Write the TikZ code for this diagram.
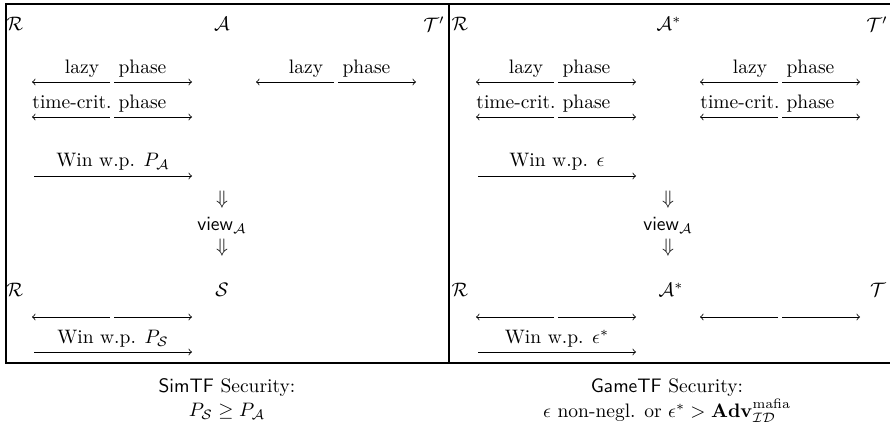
\documentclass[tikz,border=0pt]{standalone}
\usepackage{amsmath,amssymb}
\begin{document}
\begin{tikzpicture}[x=0.5128pt,y=-0.5128pt,
  frame/.style={line width=1.2pt},
  msg/.style={-to,line width=0.4pt},
  party/.style={inner sep=0pt},
  lbl/.style={inner sep=0pt,text height=6.9pt,text depth=1.9pt},
  captext/.style={inner sep=0pt,align=center}]
\useasboundingbox (0,0) rectangle (890,428);

% ---------- frames ----------
\draw[frame] (449,4) -- (6,4) -- (6,363) -- (449,363);
\draw[frame] (892,4) -- (449,4) -- (449,363) -- (892,363);

% ---------- left panel: simulation-based notion ----------
\begin{scope}
  \node[party] (R1)  at (15,24)  {$\mathcal{R}$};
  \node[party] (A1)  at (222,24) {$\mathcal{A}$};
  \node[party] (T1)  at (434,24) {$\mathcal{T}'$};
  % lazy phase, reader side
  \coordinate (p1a) at (32,82);  \coordinate (p1m) at (110,82);
  \coordinate (p1n) at (114,82); \coordinate (p1b) at (192,82);
  \draw[msg] (p1m) -- (p1a);  \draw[msg] (p1n) -- (p1b);
  \node[lbl] at (82,69)    {lazy};
  \node[lbl] at (142.5,69) {phase};
  % lazy phase, token side
  \coordinate (q1a) at (256,82); \coordinate (q1m) at (334,82);
  \coordinate (q1n) at (338,82); \coordinate (q1b) at (416,82);
  \draw[msg] (q1m) -- (q1a);  \draw[msg] (q1n) -- (q1b);
  \node[lbl] at (306,69)   {lazy};
  \node[lbl] at (366.5,69) {phase};
  % time-critical phase
  \coordinate (p2a) at (32,117);  \coordinate (p2m) at (110,117);
  \coordinate (p2n) at (114,117); \coordinate (p2b) at (192,117);
  \draw[msg] (p2m) -- (p2a);  \draw[msg] (p2n) -- (p2b);
  \node[lbl] at (72,104)    {time-crit.};
  \node[lbl] at (142.5,104) {phase};
  % outcome
  \coordinate (w1a) at (34,176); \coordinate (w1b) at (192,176);
  \draw[msg] (w1a) -- (w1b);
  \node[lbl] at (113,162) {Win w.p. $P_{\mathcal{A}}$};
  % view handed to the simulator
  \node[party] (d1a) at (222,200) {$\Downarrow$};
  \node[party] (v1)  at (222,225) {$\mathsf{view}_{\mathcal{A}}$};
  \node[party] (d1b) at (222,248) {$\Downarrow$};
  \node[party] (R1s) at (15,290)  {$\mathcal{R}$};
  \node[party] (S1)  at (222,290) {$\mathcal{S}$};
  \coordinate (s1a) at (32,317);  \coordinate (s1m) at (110,317);
  \coordinate (s1n) at (114,317); \coordinate (s1b) at (192,317);
  \draw[msg] (s1m) -- (s1a);  \draw[msg] (s1n) -- (s1b);
  \coordinate (x1a) at (34,352); \coordinate (x1b) at (192,352);
  \draw[msg] (x1a) -- (x1b);
  \node[lbl] at (113,339) {Win w.p. $P_{\mathcal{S}}$};
  % caption
  \node[captext] (c1a) at (227,388) {$\mathsf{SimTF}$ Security:};
  \node[captext] (c1b) at (227,411) {$P_{\mathcal{S}} \geq P_{\mathcal{A}}$};
\end{scope}

% ---------- right panel: game-based notion ----------
\begin{scope}[shift={(444,0)}]
  \node[party] (R2)  at (16,24)  {$\mathcal{R}$};
  \node[party] (A2)  at (225,24) {$\mathcal{A}^{*}$};
  \node[party] (T2)  at (433,24) {$\mathcal{T}'$};
  % lazy phase, both sides
  \coordinate (p3a) at (32,82);  \coordinate (p3m) at (110,82);
  \coordinate (p3n) at (114,82); \coordinate (p3b) at (192,82);
  \draw[msg] (p3m) -- (p3a);  \draw[msg] (p3n) -- (p3b);
  \node[lbl] at (82,69)    {lazy};
  \node[lbl] at (142.5,69) {phase};
  \coordinate (q3a) at (256,82); \coordinate (q3m) at (334,82);
  \coordinate (q3n) at (338,82); \coordinate (q3b) at (416,82);
  \draw[msg] (q3m) -- (q3a);  \draw[msg] (q3n) -- (q3b);
  \node[lbl] at (306,69)   {lazy};
  \node[lbl] at (366.5,69) {phase};
  % time-critical phase, both sides
  \coordinate (p4a) at (32,117);  \coordinate (p4m) at (110,117);
  \coordinate (p4n) at (114,117); \coordinate (p4b) at (192,117);
  \draw[msg] (p4m) -- (p4a);  \draw[msg] (p4n) -- (p4b);
  \node[lbl] at (72,104)    {time-crit.};
  \node[lbl] at (142.5,104) {phase};
  \coordinate (q4a) at (256,117); \coordinate (q4m) at (334,117);
  \coordinate (q4n) at (338,117); \coordinate (q4b) at (416,117);
  \draw[msg] (q4m) -- (q4a);  \draw[msg] (q4n) -- (q4b);
  \node[lbl] at (296,104)   {time-crit.};
  \node[lbl] at (366.5,104) {phase};
  % outcome
  \coordinate (w2a) at (34,176); \coordinate (w2b) at (192,176);
  \draw[msg] (w2a) -- (w2b);
  \node[lbl] at (113,162) {Win w.p. $\epsilon$};
  % view handed to the derived adversary
  \node[party] (d2a) at (224,200) {$\Downarrow$};
  \node[party] (v2)  at (224,225) {$\mathsf{view}_{\mathcal{A}}$};
  \node[party] (d2b) at (224,248) {$\Downarrow$};
  \node[party] (R2s) at (16,290)  {$\mathcal{R}$};
  \node[party] (A2s) at (227,290) {$\mathcal{A}^{*}$};
  \node[party] (T2s) at (434,290) {$\mathcal{T}$};
  \coordinate (s2a) at (32,317);  \coordinate (s2m) at (110,317);
  \coordinate (s2n) at (114,317); \coordinate (s2b) at (192,317);
  \draw[msg] (s2m) -- (s2a);  \draw[msg] (s2n) -- (s2b);
  \coordinate (t2a) at (256,317); \coordinate (t2m) at (334,317);
  \coordinate (t2n) at (338,317); \coordinate (t2b) at (416,317);
  \draw[msg] (t2m) -- (t2a);  \draw[msg] (t2n) -- (t2b);
  \coordinate (x2a) at (34,352); \coordinate (x2b) at (192,352);
  \draw[msg] (x2a) -- (x2b);
  \node[lbl] at (113,339) {Win w.p. $\epsilon^{*}$};
  % caption
  \node[captext] (c2a) at (223,388) {$\mathsf{GameTF}$ Security:};
  \node[captext] (c2b) at (223,411) {$\epsilon$ non-negl. or $\epsilon^{*} > \mathbf{Adv}^{\mathrm{mafia}}_{\mathcal{ID}}$};
\end{scope}
\end{tikzpicture}
\end{document}
